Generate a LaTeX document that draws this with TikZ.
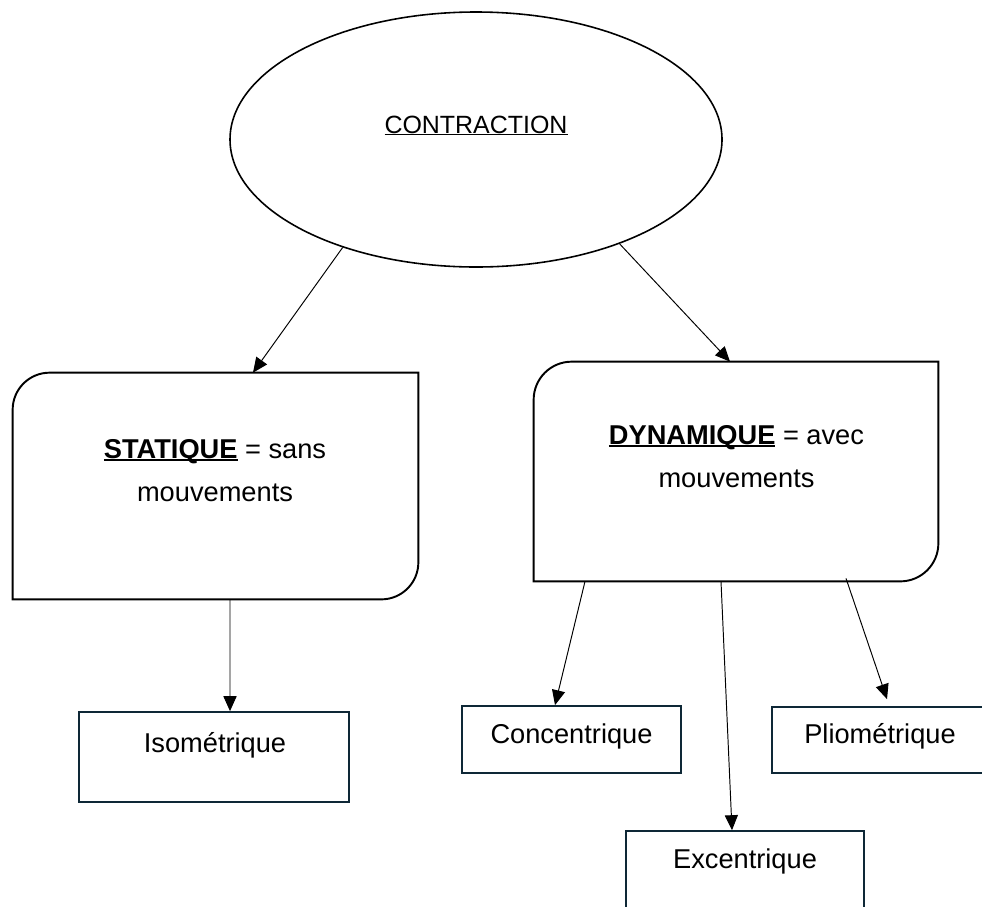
\documentclass[tikz,border=0pt]{standalone}
\usepackage{fontspec}
\setmainfont{Liberation Sans}
\usepackage{tikz}
\usetikzlibrary{shapes.geometric, arrows.meta, positioning, calc}
\definecolor{boxline}{HTML}{0E2836}

% box with only the top left and bottom right corners rounded
\newcommand{\twocornerbox}[2]{%
  \draw[line width=1.1pt] (#1.south west) -- ([yshift=-#2]#1.north west)
    arc[start angle=180, end angle=90, radius=#2] -- (#1.north east)
    -- ([yshift=#2]#1.south east)
    arc[start angle=0, end angle=-90, radius=#2] -- cycle;}
% underline just under the baseline
\newcommand{\lowline}[2]{\setbox0\hbox{#2}\rlap{\rule[-1.3pt]{\wd0}{#1}}\box0\relax}

\begin{document}
\begin{tikzpicture}[
    bigbox/.style={rectangle, inner sep=0pt},
    smallbox/.style={rectangle, draw=boxline, line width=1pt, inner sep=0pt},
    txt/.style={font=\fontsize{15.5}{24.5}\selectfont, align=center, inner sep=0pt},
    link/.style={-{Triangle[length=8.5pt, width=7.5pt]}, line width=0.55pt},
]
\clip (0,0) rectangle (19.64,-18.12);

\node[ellipse, draw, line width=0.9pt, minimum width=9.84cm, minimum height=5.10cm, inner sep=0pt] (contraction) at (9.52,-2.79) {};
\node[anchor=base, inner sep=0pt, font=\fontsize{14.2}{17}\selectfont] (contractiontxt) at (9.52,-2.66) {\lowline{0.6pt}{CONTRACTION}};

\node[bigbox, minimum width=8.10cm, minimum height=4.52cm] (stat) at (4.31,-9.72) {};
\twocornerbox{stat}{0.74cm}
\node[txt] (stattxt) at (4.30,-9.41) {\lowline{0.9pt}{\textbf{STATIQUE}} = sans\\mouvements};

\node[bigbox, minimum width=8.08cm, minimum height=4.38cm] (dyn) at (14.72,-9.43) {};
\twocornerbox{dyn}{0.76cm}
\node[txt] (dyntxt) at (14.73,-9.13) {\lowline{0.9pt}{\textbf{DYNAMIQUE}} = avec\\mouvements};

\node[smallbox, minimum width=5.40cm, minimum height=1.80cm] (iso) at (4.28,-15.14) {};
\node[txt, anchor=base] (isotxt) at (4.30,-15.04) {Isométrique};

\node[smallbox, minimum width=4.38cm, minimum height=1.34cm] (conc) at (11.43,-14.79) {};
\node[txt, anchor=base] (conctxt) at (11.43,-14.86) {Concentrique};

\node[smallbox, minimum width=4.32cm, minimum height=1.32cm] (plio) at (17.60,-14.80) {};
\node[txt, anchor=base] (pliotxt) at (17.60,-14.86) {Pliométrique};

\node[smallbox, minimum width=4.76cm, minimum height=1.80cm] (exc) at (14.90,-17.52) {};
\node[txt, anchor=base] (exctxt) at (14.90,-17.36) {Excentrique};

\draw[link] (contraction.219) -- ([xshift=0.75cm]stat.north);
\draw[link] (contraction.324) -- ([xshift=-0.12cm]dyn.north);
\draw[link] ([xshift=0.29cm]stat.south) -- ([xshift=0.32cm]iso.north);
\draw[link] ([xshift=-3.02cm]dyn.south) -- ([xshift=-0.33cm]conc.north);
\draw[link] ([xshift=-0.30cm]dyn.south) -- ([xshift=-0.26cm]exc.north);
\draw[link] ([xshift=2.2cm,yshift=0.06cm]dyn.south) -- ([xshift=0.14cm,yshift=0.14cm]plio.north);

\end{tikzpicture}
\end{document}
